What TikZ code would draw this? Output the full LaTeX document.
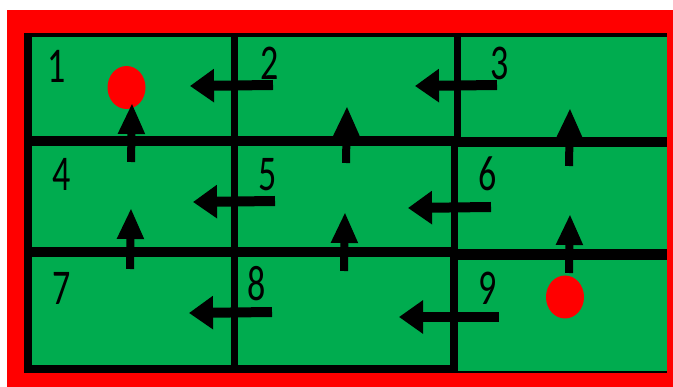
\documentclass[tikz,border=0pt]{standalone}
\usepackage{fontspec}
\usepackage{graphicx}
\setmainfont{Carlito}
\usetikzlibrary{arrows.meta,shapes.geometric}
\definecolor{cellgreen}{HTML}{00AC4F}
\definecolor{framered}{HTML}{FF0000}
\newcommand\narrownum[1]{\scalebox{0.72}[1]{#1}}
\tikzset{
  cellbox/.style={fill=cellgreen,draw=none,inner sep=0pt,outer sep=0pt,anchor=north west},
  numlabel/.style={inner sep=0pt,font=\fontsize{50}{50}\selectfont},
  reddot/.style={ellipse,fill=framered,draw=none,inner sep=0pt,minimum width=38pt,minimum height=43pt},
  leftarrow/.style={line width=10pt,-{Triangle[length=24pt,width=32pt]}},
  uparrow/.style={line width=8pt,-{Triangle[length=31pt,width=25pt]}}
}
\begin{document}
\begin{tikzpicture}[x=1pt,y=-1pt]
\useasboundingbox (0,0) rectangle (673,387);
% frame
\fill[framered] (7,10) rectangle (673,387);
\fill[black] (24,33) rectangle (667,373);
% cells
\node[cellbox,minimum width=199pt,minimum height=99pt] (c1) at (32,37) {};
\node[cellbox,minimum width=216pt,minimum height=99pt] (c2) at (238,37) {};
\node[cellbox,minimum width=206pt,minimum height=100pt] (c3) at (461,37) {};
\node[cellbox,minimum width=199pt,minimum height=101pt] (c4) at (32,146) {};
\node[cellbox,minimum width=213pt,minimum height=101pt] (c5) at (238,146) {};
\node[cellbox,minimum width=209pt,minimum height=102pt] (c6) at (458,147) {};
\node[cellbox,minimum width=199pt,minimum height=108pt] (c7) at (32,257) {};
\node[cellbox,minimum width=212pt,minimum height=108pt] (c8) at (238,257) {};
\node[cellbox,minimum width=209pt,minimum height=111pt] (c9) at (458,260) {};
% labels
\node[numlabel] (n1) at (57,66) {\narrownum{1}};
\node[numlabel] (n2) at (270,63) {\narrownum{2}};
\node[numlabel] (n3) at (500,63) {\narrownum{3}};
\node[numlabel] (n4) at (62,174) {\narrownum{4}};
\node[numlabel] (n5) at (268,175) {\narrownum{5}};
\node[numlabel] (n6) at (488,174) {\narrownum{6}};
\node[numlabel] (n7) at (62,288) {\narrownum{7}};
\node[numlabel] (n8) at (257,284) {\narrownum{8}};
\node[numlabel] (n9) at (488,288) {\narrownum{9}};
% red dots
\node[reddot] (d1) at (126.5,87.5) {};
\node[reddot] (d9) at (565,297) {};
% arrow end points
\coordinate (a21s) at (273,85); \coordinate (a21e) at (190,86);
\coordinate (a32s) at (497,85); \coordinate (a32e) at (415,86);
\coordinate (a54s) at (275,201); \coordinate (a54e) at (193,202);
\coordinate (a65s) at (491,207); \coordinate (a65e) at (408,208);
\coordinate (a87s) at (272,312); \coordinate (a87e) at (189,313);
\coordinate (a98s) at (499,317); \coordinate (a98e) at (399,317);
\coordinate (a41s) at (131,162); \coordinate (a41e) at (132,103);
\coordinate (a52s) at (346,163); \coordinate (a52e) at (347,106);
\coordinate (a63s) at (569,166); \coordinate (a63e) at (570,108);
\coordinate (a74s) at (130,269); \coordinate (a74e) at (131,208);
\coordinate (a85s) at (344,271); \coordinate (a85e) at (345,212);
\coordinate (a96s) at (569,273); \coordinate (a96e) at (570,214);
% arrows
\draw[leftarrow] (a21s) -- (a21e);
\draw[leftarrow] (a32s) -- (a32e);
\draw[leftarrow] (a54s) -- (a54e);
\draw[leftarrow] (a65s) -- (a65e);
\draw[leftarrow] (a87s) -- (a87e);
\draw[leftarrow] (a98s) -- (a98e);
\draw[uparrow] (a41s) -- (a41e);
\draw[uparrow] (a52s) -- (a52e);
\draw[uparrow] (a63s) -- (a63e);
\draw[uparrow] (a74s) -- (a74e);
\draw[uparrow] (a85s) -- (a85e);
\draw[uparrow] (a96s) -- (a96e);
\end{tikzpicture}
\end{document}
